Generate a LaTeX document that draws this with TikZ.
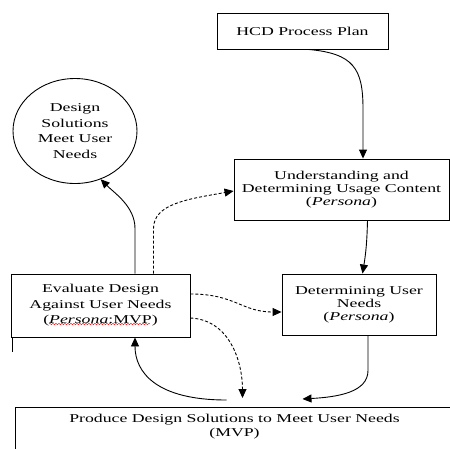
\documentclass[tikz,border=0pt]{standalone}
\usepackage{fontspec}
\setmainfont{Liberation Serif}[FakeStretch=1.48]
\usetikzlibrary{arrows.meta,shapes.geometric,decorations.pathmorphing}

\begin{document}
\begin{tikzpicture}[x=1pt,y=1pt,
   box/.style={draw, line width=.9pt, inner sep=0pt, align=center,
      font=\fontsize{12}{13}\selectfont},
   arr/.style={line width=.9pt, -{Triangle[length=9pt,width=8pt]}},
   darr/.style={arr, dash pattern=on 3pt off 2pt}]
   \clip (0,0) rectangle (450,-448);

   \node[box, minimum width=171, minimum height=36] (hcd) at (302.5,-31) {HCD Process Plan};
   \node[box, ellipse, minimum width=124, minimum height=105,
      font=\fontsize{12}{15.5}\selectfont] (des) at (75,-131) {Design\\Solutions\\Meet User\\Needs};
   \node[box, minimum width=215, minimum height=61] (und) at (341.5,-189.5)
      {Understanding and\\Determining Usage Content\\(\textit{Persona})};
   \node[box, minimum width=154, minimum height=61] (det) at (359,-304.5)
      {Determining User\\Needs\\(\textit{Persona})};
   \node[box, minimum width=179, minimum height=63,
      font=\fontsize{12}{15.5}\selectfont] (eva) at (100.5,-305.5)
      {Evaluate Design\\Against User Needs\\(\textit{Persona}:MVP)};
   \node[box, draw=none, anchor=north, minimum width=437, inner ysep=7pt,
      font=\fontsize{12}{14}\selectfont] (pro) at (234.5,-407)
      {Produce Design Solutions to Meet User Needs\\(MVP)};
   \draw[line width=.9pt] (pro.north east) -- (pro.north west) -- ++(0,-50);

   % red spell-check line and stray mark
   \draw[red, decorate, decoration={snake, amplitude=.8pt, segment length=3pt}] (49,-324) -- (150,-324);
   \draw[line width=.9pt] ([xshift=2]eva.south west) -- ++(0,-15);

   \draw[arr] ([xshift=6]hcd.south) .. controls +(45,-4) and +(0,40) .. ([xshift=21.5,yshift=50]und.north) -- ([xshift=21.5]und.north);
   \draw[arr] ([xshift=26]und.south) to[bend left=4] ([xshift=3.5]det.north);
   \draw[arr] ([xshift=9]det.south) -- ++(0,-35) .. controls +(0,-22) and +(35,2) .. ([xshift=68,yshift=8]pro.north);
   \draw[arr] ([xshift=-8,yshift=7]pro.north) .. controls +(-70,0) and +(0,-35) .. ([xshift=34.5]eva.south);
   \draw[arr] ([xshift=34.5]eva.north) -- ++(0,45) .. controls +(0,22) and +(14,-14) .. (des.-62);

   \draw[darr] ([xshift=53]eva.north) -- ++(0,45) .. controls +(0,25) and +(-45,-8) .. ([yshift=-1.5]und.west);
   \draw[darr] ([yshift=11.5]eva.east) .. controls +(45,0) and +(-40,0) .. ([yshift=-7.5]det.west);
   \draw[darr] ([yshift=-12.5]eva.east) .. controls +(40,-2) and +(0,35) .. ([xshift=8,yshift=9]pro.north);

\end{tikzpicture}
\end{document}
